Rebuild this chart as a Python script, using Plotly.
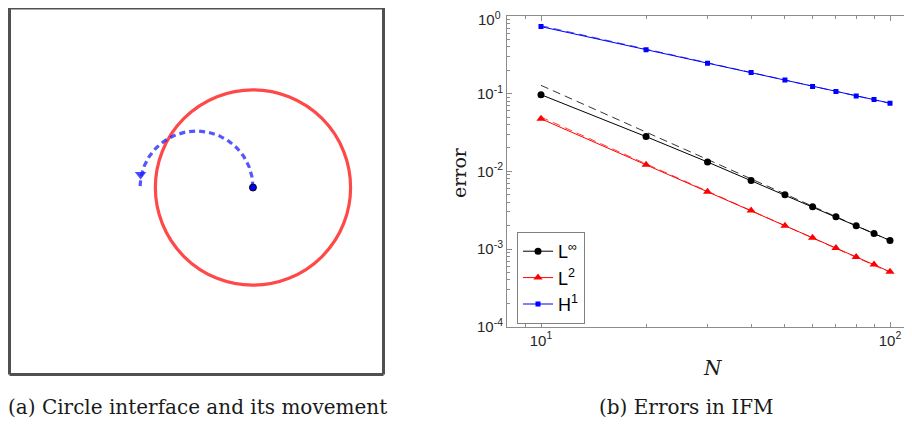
import numpy as np
import plotly.graph_objects as go

# ---------------- data ----------------
N = [10, 20, 30, 40, 50, 60, 70, 80, 90, 100]
err_Linf = [0.097, 0.028, 0.0132, 0.0076, 0.0050, 0.00350, 0.00260, 0.00199, 0.00158, 0.00129]
err_L2 = [0.0475, 0.0122, 0.00545, 0.00313, 0.00200, 0.00140, 0.00103, 0.00079, 0.00063, 0.00051]
err_H1 = [0.73, 0.367, 0.247, 0.187, 0.150, 0.124, 0.107, 0.093, 0.084, 0.0755]

ref_N = [10, 100]
ref_Linf = [0.128, 0.00128]
ref_L2 = [0.050, 0.00050]
ref_H1 = [0.75, 0.075]

y_tickvals = [1e-4, 1e-3, 1e-2, 1e-1, 1]
y_ticktext = ["10<sup>-4</sup>", "10<sup>-3</sup>", "10<sup>-2</sup>", "10<sup>-1</sup>", "10<sup>0</sup>"]
x_tickvals = [10, 100]
x_ticktext = ["10<sup>1</sup>", "10<sup>2</sup>"]

# left panel geometry (domain [-1,1]^2)
circle_center = (0.302, 0.0)
circle_radius = 0.522
arc_center = (0.0, 0.0)
arc_radius = 0.302
arc_angles_deg = (0, 180)

W, H = 912, 426
OFF = 8  # page body margin offset of the figure div


def px(x):
    return (x - OFF) / W


def py(y):
    return 1 - (y - OFF) / H


fig = go.Figure()

# ---------------- left panel ----------------
th = np.radians(np.linspace(arc_angles_deg[0], arc_angles_deg[1], 80))
arc_x = arc_center[0] + arc_radius * np.cos(th)
arc_y = arc_center[1] + arc_radius * np.sin(th)
fig.add_trace(go.Scatter(x=arc_x, y=arc_y, mode="lines", xaxis="x2", yaxis="y2",
                         line=dict(color="rgba(30,30,255,0.75)", width=3.2, dash="6px,4px"),
                         showlegend=False, hoverinfo="skip"))
fig.add_trace(go.Scatter(x=[-0.299], y=[0.07], mode="markers", xaxis="x2", yaxis="y2",
                         marker=dict(symbol="triangle-down", size=10, color="rgba(30,30,255,0.8)",
                                     line=dict(width=0)),
                         showlegend=False, hoverinfo="skip"))
fig.add_trace(go.Scatter(x=[circle_center[0]], y=[circle_center[1]], mode="markers",
                         xaxis="x2", yaxis="y2",
                         marker=dict(symbol="circle", size=7, color="#0000ff",
                                     line=dict(color="black", width=1)),
                         showlegend=False, hoverinfo="skip"))

fig.add_shape(type="circle", xref="x2", yref="y2",
              x0=circle_center[0] - circle_radius, x1=circle_center[0] + circle_radius,
              y0=circle_center[1] - circle_radius, y1=circle_center[1] + circle_radius,
              line=dict(color="rgba(255,40,40,0.85)", width=3.2), layer="below")

# box: the square spans screen x 9.5..383.5, y 0.5..374.5; top part is above the page area
box_col = "#505050"
bx0, bx1, by0, by1 = px(9.5), px(383.5), py(374.5), 1.0
fig.add_shape(type="line", xref="paper", yref="paper", x0=bx0, x1=bx0, y0=by0, y1=by1,
              line=dict(color=box_col, width=3))
fig.add_shape(type="line", xref="paper", yref="paper", x0=bx1, x1=bx1, y0=by0, y1=by1,
              line=dict(color=box_col, width=3))
fig.add_shape(type="line", xref="paper", yref="paper", x0=bx0, x1=bx1, y0=by0, y1=by0,
              line=dict(color=box_col, width=3))
fig.add_shape(type="line", xref="paper", yref="paper", x0=bx0, x1=bx1, y0=by1, y1=by1,
              line=dict(color=box_col, width=3))

# y range of the left axes: -1 at screen 374.5, +1 at screen 0.5; domain top is screen 8
left_ytop = -1 + 2 * (374.5 - OFF) / 374.0

# ---------------- right panel ----------------
fig.add_trace(go.Scatter(x=ref_N, y=ref_Linf, mode="lines", line=dict(color="#333333", width=1, dash="8px,5px"),
                         showlegend=False, hoverinfo="skip"))
fig.add_trace(go.Scatter(x=ref_N, y=ref_L2, mode="lines", line=dict(color="#ff4040", width=1, dash="8px,5px"),
                         showlegend=False, hoverinfo="skip"))
fig.add_trace(go.Scatter(x=ref_N, y=ref_H1, mode="lines", line=dict(color="#4040ff", width=1, dash="8px,5px"),
                         showlegend=False, hoverinfo="skip"))

fig.add_trace(go.Scatter(x=N, y=err_Linf, mode="lines+markers", name="L<sup>∞</sup>",
                         line=dict(color="black", width=1),
                         marker=dict(symbol="circle", size=7, color="black")))
fig.add_trace(go.Scatter(x=N, y=err_L2, mode="lines+markers", name="L<sup>2</sup>",
                         line=dict(color="#ff0000", width=1),
                         marker=dict(symbol="triangle-up", size=8, color="#ff0000")))
fig.add_trace(go.Scatter(x=N, y=err_H1, mode="lines+markers", name="H<sup>1</sup>",
                         line=dict(color="#0000ff", width=1),
                         marker=dict(symbol="square", size=5, color="#0000ff")))

minor_x = [v * 10 ** k for k in (0, 1, 2) for v in range(2, 10)]
minor_y = [v * 10.0 ** k for k in (-4, -3, -2, -1) for v in range(2, 10)]

axis_col = "#8c8c8c"
tick_col = "#262626"
tick_font = dict(family="Liberation Sans, Arial", size=15, color=tick_col)

# x axis: 10^1 at screen 541, 10^2 at screen 890
dec = 890 - 541
x_lo = 1 - (541 - 507) / dec
x_hi = 2 + (OFF + W - 890) / dec

# the top y label would be cut at the page edge: draw it as an annotation just inside
y_ticktext_axis = y_ticktext[:-1] + [""]

fig.update_layout(
    width=W, height=H,
    margin=dict(l=0, r=0, t=0, b=0, autoexpand=False),
    paper_bgcolor="white", plot_bgcolor="white",
    xaxis=dict(type="log", domain=[px(507), 1.0], range=[x_lo, x_hi],
               tickmode="array", tickvals=x_tickvals, ticktext=x_ticktext,
               ticks="inside", ticklen=5, tickcolor=axis_col, tickwidth=1,
               showline=True, linecolor=axis_col, linewidth=1, mirror="ticks",
               showgrid=False, zeroline=False, tickfont=tick_font, automargin=False,
               ticklabeloverflow="allow",
               minor=dict(tickmode="array", tickvals=minor_x, ticks="inside", ticklen=3,
                          tickcolor=axis_col, showgrid=False),
               anchor="y"),
    yaxis=dict(type="log", domain=[py(326.7), py(16)], range=[-4, 0],
               tickmode="array", tickvals=y_tickvals, ticktext=y_ticktext_axis,
               ticks="inside", ticklen=5, tickcolor=axis_col, tickwidth=1,
               showline=True, linecolor=axis_col, linewidth=1, mirror=False,
               showgrid=False, zeroline=False, tickfont=tick_font, automargin=False,
               ticklabeloverflow="allow",
               minor=dict(tickmode="array", tickvals=minor_y, ticks="inside", ticklen=3,
                          tickcolor=axis_col, showgrid=False),
               anchor="x"),
    xaxis2=dict(domain=[px(9.5), px(383.5)], range=[-1, 1], visible=False, anchor="y2",
                fixedrange=True, automargin=False),
    yaxis2=dict(domain=[py(374.5), 1.0], range=[-1, left_ytop], visible=False, anchor="x2",
                fixedrange=True, automargin=False),
    legend=dict(x=px(517), y=py(232), xanchor="left", yanchor="top",
                bgcolor="white", bordercolor="#808080", borderwidth=1,
                font=dict(family="Liberation Sans, Arial", size=18, color="black"),
                itemwidth=30, tracegroupgap=0),
    showlegend=True,
)

fig.add_annotation(text=y_ticktext[-1], x=px(502), y=1.0, xref="paper", yref="paper",
                   xanchor="right", yanchor="top", showarrow=False, borderpad=0,
                   font=tick_font)

serif = "DejaVu Serif, serif"
cap_col = "#1a1a1a"
fig.add_annotation(text="error", x=px(459), y=py(173), xref="paper", yref="paper",
                   xanchor="center", yanchor="middle",
                   textangle=-90, showarrow=False, font=dict(family=serif, size=19, color=cap_col))
fig.add_annotation(text="<i>N</i>", x=px(713), y=py(368), xref="paper", yref="paper",
                   xanchor="center", yanchor="middle",
                   showarrow=False, font=dict(family=serif, size=20, color=cap_col))
fig.add_annotation(text="(a) Circle interface and its movement", x=px(197), y=py(407),
                   xref="paper", yref="paper", showarrow=False, xanchor="center", yanchor="middle",
                   font=dict(family=serif, size=20, color=cap_col))
fig.add_annotation(text="(b) Errors in IFM", x=px(686), y=py(407),
                   xref="paper", yref="paper", showarrow=False, xanchor="center", yanchor="middle",
                   font=dict(family=serif, size=20, color=cap_col))

fig.write_html("out.html")
